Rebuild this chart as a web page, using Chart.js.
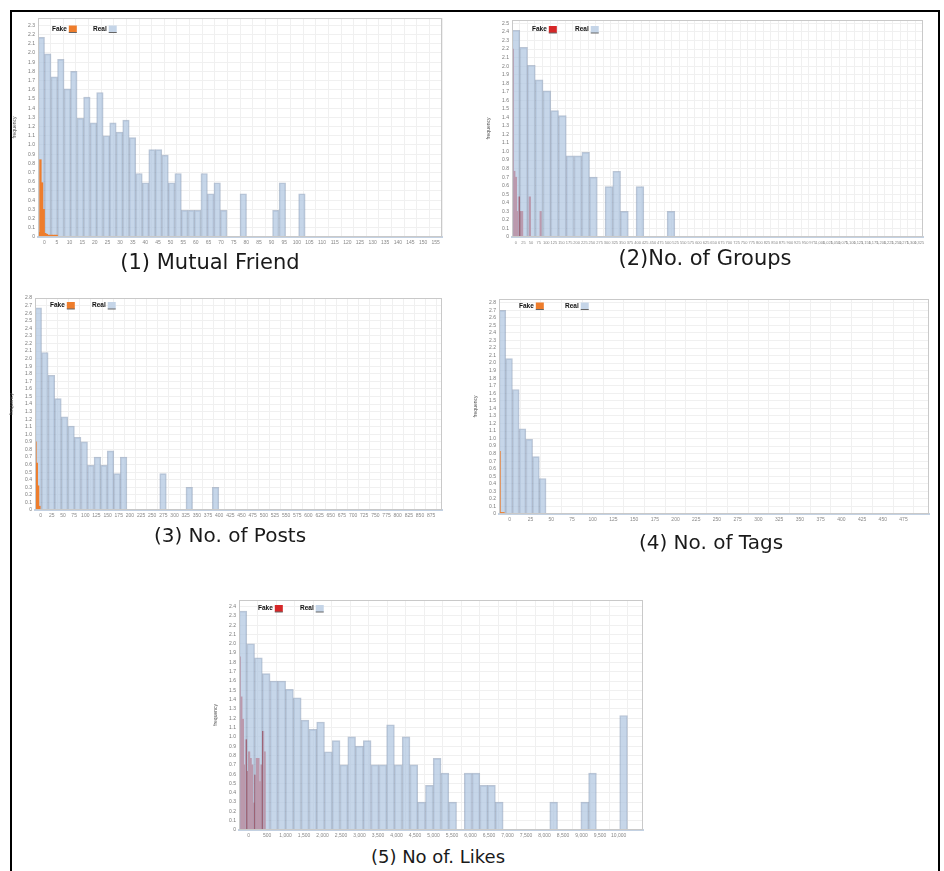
<!DOCTYPE html>
<html>
<head>
<meta charset="utf-8">
<script src="https://cdn.jsdelivr.net/npm/chart.js@4.4.0/dist/chart.umd.min.js"></script>
<style>
  body { margin: 0; background: #fff; width: 944px; height: 871px; overflow: hidden; position: relative; font-family: "DejaVu Sans", sans-serif; }
  #frame { position: absolute; left: 10px; top: 10px; width: 926px; height: 900px; border: 2px solid #000; border-bottom: none; }
  canvas { position: absolute; }
  .cap { position: absolute; width: 400px; text-align: center; color: #1a1a1a; white-space: nowrap; }
</style>
</head>
<body>
<div id="frame"></div>

<canvas id="c1" width="446" height="239" style="left:6px;top:12px"></canvas>
<canvas id="c2" width="453" height="237" style="left:480px;top:14px"></canvas>
<canvas id="c3" width="449" height="232" style="left:3px;top:292px"></canvas>
<canvas id="c4" width="472" height="235" style="left:467px;top:293px"></canvas>
<canvas id="c5" width="446" height="250" style="left:207px;top:594px"></canvas>

<div class="cap" style="left:10px;top:250px;font-size:21px">(1) Mutual Friend</div>
<div class="cap" style="left:505px;top:246px;font-size:21px">(2)No. of Groups</div>
<div class="cap" style="left:30px;top:523px;font-size:20px">(3) No. of Posts</div>
<div class="cap" style="left:511px;top:530px;font-size:20px">(4) No. of Tags</div>
<div class="cap" style="left:238px;top:846px;font-size:18px">(5) No of. Likes</div>

<script>
// frequency per histogram bin
var realMutual = [2.17, 1.99, 1.74, 1.93, 1.61, 1.80, 1.29, 1.52, 1.24, 1.57, 1.10, 1.24, 1.14, 1.27, 1.08, 0.69,
    0.59, 0.95, 0.95, 0.89, 0.59, 0.69, 0.29, 0.29, 0.29, 0.69, 0.47, 0.59, 0.29, 0, 0, 0.47, 0, 0, 0, 0, 0.29, 0.59, 0, 0, 0.47];
var fakeMutual = [0.05, 0.84, 0.59, 0.30, 0.04, 0.03, 0.02, 0.02, 0.02, 0.02, 0.02, 0.02];

var realGroups = [2.42, 2.22, 2.01, 1.84, 1.71, 1.48, 1.42, 0.95, 0.95, 0.99, 0.70, 0, 0.59, 0.77, 0.30, 0, 0.59, 0, 0, 0, 0.30];
var fakeGroups = [2.20, 0.77, 0.70, 0.30, 0.47, 0.30, 0.30, 0, 0, 0, 0, 0.47, 0, 0, 0, 0, 0, 0, 0.30];

var realPosts = [2.67, 2.08, 1.78, 1.47, 1.23, 1.11, 0.96, 0.90, 0.59, 0.70, 0.59, 0.78, 0.48, 0.70,
    0, 0, 0, 0, 0, 0.48, 0, 0, 0, 0.30, 0, 0, 0, 0.30];
var fakePosts = [0.90, 0.62, 0.32, 0.05];

var realTags = [2.70, 2.06, 1.65, 1.13, 0.99, 0.76, 0.47];
var fakeTags = [0.83, 0.02, 0.02, 0.02];

var realLikes = [2.35, 2.00, 1.85, 1.68, 1.60, 1.60, 1.51, 1.42, 1.18, 1.08, 1.16, 0.84, 0.96, 0.70, 1.00, 0.90,
    0.96, 0.70, 0.70, 1.13, 0.70, 1.00, 0.70, 0.30, 0.48, 0.77, 0.61, 0.30, 0, 0.61, 0.61, 0.48, 0.48, 0.30,
    0, 0, 0, 0, 0, 0, 0.30, 0, 0, 0, 0.30, 0.61, 0, 0, 0, 1.23];
var fakeLikes = [1.86, 1.43, 1.19, 0.70, 0.97, 0.63, 0.84, 0.77, 0.70, 0.29, 0.59, 0.77, 0.77, 0.52, 0.70, 1.06, 0.84];

var seriesNames = ["Fake", "Real"];

Chart.defaults.font.family = '"Liberation Sans", Arial, sans-serif';

// frame round the plot area + legend drawn inside it
var panelFrame = {
    id: "panelFrame",
    afterDraw: function (chart, args, opts) {
        var ctx = chart.ctx, a = chart.chartArea;
        ctx.save();
        ctx.strokeStyle = "#c9c9c9";
        ctx.lineWidth = 1;
        ctx.strokeRect(a.left + 0.5, a.top + 0.5, a.width - 1, a.height - 1);
        ctx.font = 'bold 6.5px "Liberation Sans", Arial, sans-serif';
        ctx.textBaseline = "middle";
        var x = a.left + opts.x, y = a.top + opts.y;
        chart.data.datasets.forEach(function (ds) {
            ctx.fillStyle = "#111";
            ctx.fillText(ds.label, x, y);
            var w = ctx.measureText(ds.label).width;
            ctx.fillStyle = ds.legendColor;
            ctx.fillRect(x + w + 2, y - 3.5, 8, 7);
            ctx.strokeStyle = "#666";
            ctx.beginPath();
            ctx.moveTo(x + w + 2, y + 3.5);
            ctx.lineTo(x + w + 10, y + 3.5);
            ctx.stroke();
            x += opts.gap;
        });
        ctx.restore();
    }
};

function binLabels(width, count) {
    var out = [];
    for (var i = 0; i < count; i++) out.push(+(i * width).toFixed(3));
    return out;
}

var panels = [
    { id: "c1", real: realMutual, fake: fakeMutual, bin: 2.5, bins: 62, split: 4, step: 5, yMax: 2.38, tickSize: 5,
      fakeColor: "#ee7d2c", fakeOnTop: true, legend: { x: 14, y: 11, gap: 41 } },
    { id: "c2", real: realGroups, fake: fakeGroups, bin: 25, bins: 53, split: 5, step: 25, yMax: 2.54, tickSize: 4,
      fakeColor: "#d62728", fakeOnTop: false, legend: { x: 20, y: 9.5, gap: 43 } },
    { id: "c3", real: realPosts, fake: fakePosts, bin: 14.3, bins: 62, split: 5, step: 25, yMax: 2.8, tickSize: 5,
      fakeColor: "#ee7d2c", fakeOnTop: true, legend: { x: 15, y: 7.5, gap: 42 } },
    { id: "c4", real: realTags, fake: fakeTags, bin: 7.7, bins: 64, split: 5, step: 25, yMax: 2.85, tickSize: 5,
      fakeColor: "#ee7d2c", fakeOnTop: true, legend: { x: 20, y: 7, gap: 46 } },
    { id: "c5", real: realLikes, fake: fakeLikes, bin: 200, bins: 52, split: 5, step: 500, yMax: 2.47, tickSize: 5,
      fakeColor: "#d62728", fakeOnTop: false, legend: { x: 19, y: 8.5, gap: 42 } }
];

panels.forEach(function (p) {
    var ctx = document.getElementById(p.id);
    new Chart(ctx, {
        type: "bar",
        data: {
            datasets: [
                {
                    label: seriesNames[0],
                    data: p.fake,
                    xAxisID: "xf",
                    backgroundColor: p.fakeColor,
                    borderWidth: 0,
                    barPercentage: 1,
                    categoryPercentage: 1,
                    grouped: false,
                    order: p.fakeOnTop ? 0 : 1,
                    legendColor: p.fakeColor
                },
                {
                    label: seriesNames[1],
                    data: p.real,
                    xAxisID: "xr",
                    backgroundColor: "rgba(176,198,224,0.72)",
                    borderColor: "rgba(120,140,170,0.5)",
                    borderWidth: 1,
                    barPercentage: 1,
                    categoryPercentage: 1,
                    grouped: false,
                    order: p.fakeOnTop ? 1 : 0,
                    legendColor: "#c5d5e8"
                }
            ]
        },
        options: {
            responsive: false,
            animation: false,
            events: [],
            layout: { padding: { left: 6, top: 6, right: 10, bottom: 2 } },
            scales: {
                x: {
                    type: "linear",
                    min: 0,
                    max: p.bin * p.bins,
                    afterBuildTicks: function (s) {
                        var t = [];
                        for (var v = 0; v <= s.max + 1e-9; v += p.step) t.push({ value: v });
                        s.ticks = t;
                    },
                    afterFit: function (s) { s.height = 12; s.paddingLeft = 0; s.paddingRight = 0; },
                    ticks: { autoSkip: false, maxRotation: 0, minRotation: 0,
                             font: { size: p.tickSize }, color: "#888", padding: 3 },
                    grid: { color: "#f0f0f0", drawTicks: false },
                    border: { color: "#c3d1e2", width: 2 }
                },
                xr: {
                    type: "category",
                    labels: binLabels(p.bin, p.bins),
                    offset: true,
                    display: false,
                    grid: { display: false }
                },
                xf: {
                    type: "category",
                    labels: binLabels(p.bin / p.split, p.bins * p.split),
                    offset: true,
                    display: false,
                    grid: { display: false }
                },
                y: {
                    min: 0,
                    max: p.yMax,
                    afterFit: function (s) { s.width = 26; s.paddingTop = 0; s.paddingBottom = 0; },
                    ticks: { stepSize: 0.1, includeBounds: false, autoSkip: false, font: { size: 5 }, color: "#777", padding: 3 },
                    grid: { color: "#f0f0f0", drawTicks: false },
                    border: { display: false },
                    title: { display: true, text: "frequency", font: { size: 5 }, color: "#555", padding: { top: 0, bottom: 1 } }
                }
            },
            plugins: {
                legend: { display: false },
                tooltip: { enabled: false },
                panelFrame: p.legend
            }
        },
        plugins: [panelFrame]
    });
});
</script>
</body>
</html>
